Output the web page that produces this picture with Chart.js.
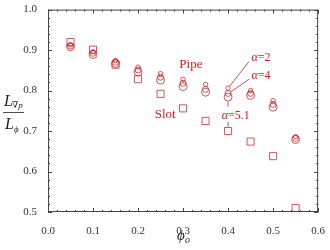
<!DOCTYPE html>
<html>
<head>
<meta charset="utf-8">
<script src="https://cdn.jsdelivr.net/npm/chart.js@4.4.1/dist/chart.umd.min.js"></script>
<style>
  html, body { margin: 0; padding: 0; background: #fff; }
  canvas { display: block; }
</style>
</head>
<body>
<canvas id="chart" width="330" height="250"></canvas>
<script>
// volume fraction phi_o
const phi = [0.05, 0.10, 0.15, 0.20, 0.25, 0.30, 0.35, 0.40, 0.45, 0.50, 0.55];
// slot
const slot = [0.920, 0.901, 0.864, 0.828, 0.792, 0.756, 0.725, 0.700, 0.674, 0.638, 0.510];
// pipe, three aspect ratios
const pipeA2 = [0.913, 0.896, 0.874, 0.858, 0.842, 0.828, 0.815, 0.806, 0.800, 0.775, 0.686];
const pipeA4 = [0.910, 0.892, 0.870, 0.851, 0.833, 0.818, 0.803, 0.793, 0.793, 0.766, 0.682];
const pipeA51 = [0.908, 0.889, 0.867, 0.846, 0.826, 0.810, 0.796, 0.784, 0.788, 0.759, 0.679];

const xTicks = [0.0, 0.1, 0.2, 0.3, 0.4, 0.5, 0.6];
const yTicks = [0.5, 0.6, 0.7, 0.8, 0.9, 1.0];

const red = 'rgba(195, 45, 45, 0.8)';
const textRed = '#cc2020';
const serif = '"Liberation Serif", "DejaVu Serif", serif';

function pts(ys) {
  return phi.map((x, i) => ({ x: x, y: ys[i] }));
}

function series(label, ys, style, r) {
  return {
    label: label,
    data: pts(ys),
    pointStyle: style,
    pointRadius: r,
    pointHoverRadius: r,
    borderColor: red,
    backgroundColor: 'rgba(0,0,0,0)',
    pointBorderWidth: 1,
    showLine: false
  };
}

// inward ticks on all four sides plus frame, axis titles and labels
const decor = {
  id: 'decor',
  afterDraw(chart) {
    const ctx = chart.ctx;
    const a = chart.chartArea;
    const xs = chart.scales.x, ys = chart.scales.y;
    ctx.save();
    ctx.strokeStyle = '#444';
    ctx.lineWidth = 1;
    ctx.strokeRect(a.left + 0.5, a.top + 0.5, a.right - a.left - 1, a.bottom - a.top - 1);

    ctx.beginPath();
    for (let i = 0; i <= 30; i++) {
      const v = i * 0.02;
      const px = Math.round(xs.getPixelForValue(v)) + 0.5;
      const len = i % 5 === 0 ? 4 : 2;
      ctx.moveTo(px, a.bottom); ctx.lineTo(px, a.bottom - len);
      ctx.moveTo(px, a.top); ctx.lineTo(px, a.top + len);
    }
    for (let i = 0; i <= 25; i++) {
      const v = 0.5 + i * 0.02;
      const py = Math.round(ys.getPixelForValue(v)) + 0.5;
      const len = i % 5 === 0 ? 4 : 2;
      ctx.moveTo(a.left, py); ctx.lineTo(a.left + len, py);
      ctx.moveTo(a.right, py); ctx.lineTo(a.right - len, py);
    }
    ctx.stroke();

    // leader lines
    const P = (x, y) => [xs.getPixelForValue(x), ys.getPixelForValue(y)];
    ctx.strokeStyle = textRed;
    ctx.lineWidth = 0.8;
    const lines = [
      [0.447, 0.8725, 0.4035, 0.811],
      [0.447, 0.8284, 0.4057, 0.7966],
      [0.4, 0.772, 0.4, 0.760],
      [0.4, 0.723, 0.4, 0.711]
    ];
    ctx.beginPath();
    lines.forEach(l => {
      const p1 = P(l[0], l[1]), p2 = P(l[2], l[3]);
      ctx.moveTo(p1[0], p1[1]); ctx.lineTo(p2[0], p2[1]);
    });
    ctx.stroke();

    // labels
    ctx.fillStyle = textRed;
    ctx.textBaseline = 'middle';
    ctx.textAlign = 'left';
    ctx.font = '13px ' + serif;
    let p = P(0.2917, 0.865); ctx.fillText('Pipe', p[0], p[1]);
    p = P(0.237, 0.740); ctx.fillText('Slot', p[0], p[1]);

    function alpha(txt, x, y) {
      const q = P(x, y);
      ctx.font = 'italic 12px ' + serif;
      ctx.fillText('\u03b1', q[0], q[1]);
      const w = ctx.measureText('\u03b1').width;
      ctx.font = '12px ' + serif;
      ctx.fillText(txt, q[0] + w, q[1]);
    }
    alpha('=2', 0.452, 0.880);
    alpha('=4', 0.452, 0.836);
    alpha('=5.1', 0.386, 0.738);

    // x title: phi_o
    ctx.fillStyle = '#222';
    ctx.textBaseline = 'alphabetic';
    ctx.font = 'italic 15px ' + serif;
    ctx.fillText('\u03d5', 177, 240);
    ctx.font = 'italic 10px ' + serif;
    ctx.fillText('o', 185, 243);

    // y title: fraction
    ctx.font = 'italic 16px ' + serif;
    ctx.fillText('L', 4, 106);
    ctx.font = 'italic 9px ' + serif;
    ctx.fillText('\u2207p', 12, 108);
    ctx.fillText('\u03d5', 14, 132);
    ctx.font = 'italic 16px ' + serif;
    ctx.fillText('L', 5, 129);
    ctx.strokeStyle = '#222';
    ctx.lineWidth = 0.8;
    ctx.beginPath();
    ctx.moveTo(3, 112.5); ctx.lineTo(24, 112.5);
    ctx.stroke();
    ctx.restore();
  }
};

const tickFont = { family: serif, size: 11 };

new Chart(document.getElementById('chart'), {
  type: 'scatter',
  data: {
    datasets: [
      series('Slot', slot, 'rect', 5),
      series('Pipe a=5.1', pipeA51, 'circle', 4),
      series('Pipe a=4', pipeA4, 'circle', 3),
      series('Pipe a=2', pipeA2, 'circle', 2.2)
    ]
  },
  options: {
    responsive: false,
    animation: false,
    layout: { padding: { top: 8, right: 8, left: 0, bottom: 0 } },
    plugins: { legend: { display: false }, tooltip: { enabled: false } },
    scales: {
      x: {
        type: 'linear', min: 0, max: 0.6,
        afterBuildTicks: s => { s.ticks = xTicks.map(v => ({ value: v })); },
        afterFit: s => { s.height = 38; },
        grid: { display: false },
        border: { display: false },
        ticks: { color: '#333', font: tickFont, padding: 5, maxRotation: 0,
                 callback: v => v.toFixed(1) }
      },
      y: {
        type: 'linear', min: 0.5, max: 1.0,
        afterBuildTicks: s => { s.ticks = yTicks.map(v => ({ value: v })); },
        afterFit: s => { s.width = 48; },
        grid: { display: false },
        border: { display: false },
        ticks: { color: '#333', font: tickFont, padding: 3,
                 callback: v => v.toFixed(1) }
      }
    }
  },
  plugins: [decor]
});
</script>
</body>
</html>
